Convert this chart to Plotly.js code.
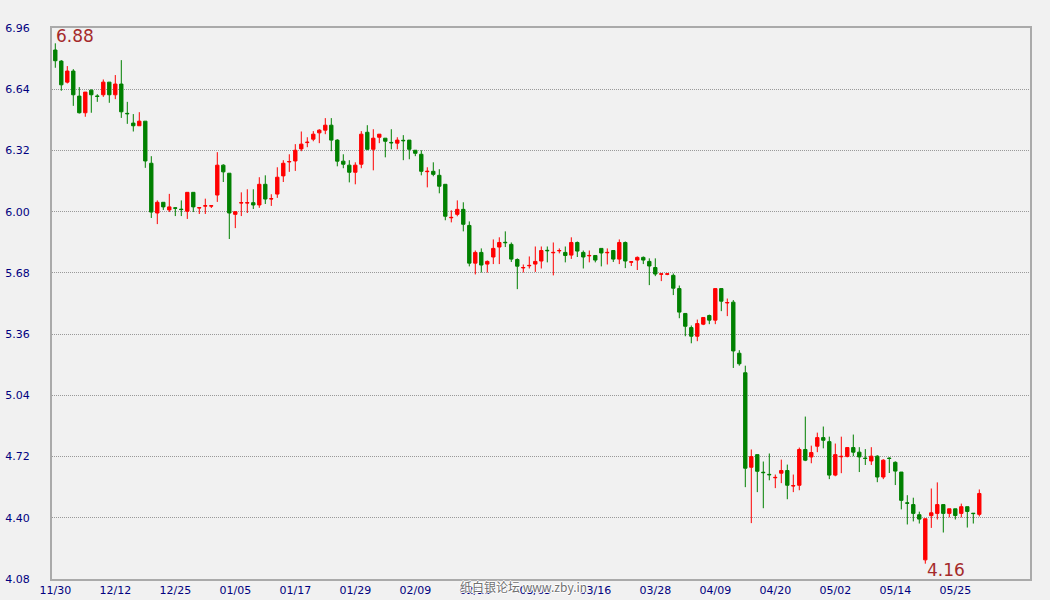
<!DOCTYPE html>
<html>
<head>
<meta charset="utf-8">
<script src="https://cdn.plot.ly/plotly-3.0.1.min.js"></script>
<style>html,body{margin:0;padding:0;background:#f1f1f1;}#chart{width:1050px;height:600px;}</style>
</head>
<body>
<div id="chart"></div>
<script>
// Tick labels shown every 10 trading days
const tickLabels = ["11/30","12/12","12/25","01/05","01/17","01/29","02/09","02/21","03/05","03/16","03/28","04/09","04/20","05/02","05/14","05/25"];

const openP = [
6.845,6.787,6.677,6.735,6.604,6.517,6.635,6.605,6.611,6.677,
6.611,6.667,6.514,6.463,6.449,6.473,6.253,5.993,6.049,6.009,
6.020,6.013,6.002,6.101,6.019,6.029,6.029,6.087,6.243,6.201,
5.986,6.045,6.045,6.047,6.035,6.143,6.066,6.092,6.187,6.260,
6.265,6.328,6.361,6.379,6.412,6.426,6.452,6.374,6.264,6.243,
6.206,6.248,6.415,6.326,6.389,6.384,6.362,6.358,6.373,6.374,
6.321,6.300,6.209,6.211,6.190,6.143,5.968,5.986,6.012,5.928,
5.731,5.787,5.726,5.763,5.815,5.840,5.829,5.750,5.706,5.717,
5.726,5.742,5.798,5.785,5.795,5.787,5.773,5.839,5.787,5.769,
5.771,5.808,5.785,5.797,5.752,5.839,5.736,5.747,5.761,5.740,
5.708,5.673,5.673,5.667,5.598,5.468,5.394,5.349,5.412,5.457,
5.433,5.598,5.523,5.527,5.260,5.158,4.664,4.730,4.638,4.627,
4.609,4.633,4.647,4.566,4.570,4.757,4.718,4.774,4.819,4.798,
4.623,4.719,4.720,4.767,4.743,4.712,4.697,4.722,4.613,4.712,
4.690,4.639,4.478,4.469,4.416,4.180,4.411,4.423,4.469,4.423,
4.447,4.423,4.458,4.424,4.418];

const highP = [
6.880,6.792,6.761,6.745,6.651,6.625,6.639,6.614,6.691,6.677,
6.714,6.792,6.574,6.510,6.520,6.473,6.290,6.059,6.049,6.093,
6.023,6.059,6.101,6.101,6.021,6.068,6.031,6.311,6.248,6.201,
6.000,6.101,6.117,6.117,6.180,6.190,6.091,6.232,6.269,6.300,
6.353,6.419,6.389,6.421,6.431,6.489,6.489,6.379,6.300,6.269,
6.258,6.421,6.452,6.431,6.405,6.384,6.431,6.389,6.400,6.374,
6.321,6.321,6.232,6.258,6.222,6.143,6.007,6.059,6.049,5.949,
5.797,5.808,5.745,5.855,5.866,5.897,5.839,5.756,5.724,5.766,
5.818,5.818,5.818,5.839,5.808,5.818,5.866,5.844,5.797,5.797,
5.771,5.808,5.808,5.797,5.855,5.844,5.738,5.766,5.766,5.756,
5.756,5.675,5.675,5.677,5.614,5.468,5.405,5.436,5.447,5.462,
5.598,5.598,5.546,5.538,5.276,5.195,4.757,4.730,4.694,4.736,
4.626,4.704,4.678,4.626,4.767,4.929,4.777,4.845,4.877,4.824,
4.788,4.824,4.767,4.835,4.769,4.759,4.769,4.727,4.706,4.716,
4.695,4.639,4.518,4.505,4.432,4.395,4.553,4.585,4.469,4.447,
4.447,4.474,4.458,4.424,4.548];

const lowP = [
6.752,6.632,6.670,6.553,6.513,6.496,6.517,6.574,6.600,6.569,
6.588,6.490,6.459,6.419,6.449,6.229,5.967,5.935,6.009,5.998,
5.977,5.977,5.962,5.998,5.988,5.988,6.019,6.051,6.155,5.857,
5.914,5.977,5.993,6.014,6.020,6.040,6.030,6.072,6.155,6.208,
6.213,6.316,6.337,6.368,6.358,6.405,6.316,6.237,6.227,6.153,
6.143,6.227,6.321,6.216,6.358,6.284,6.326,6.326,6.269,6.274,
6.290,6.190,6.127,6.185,6.096,5.955,5.944,5.976,5.897,5.714,
5.672,5.682,5.682,5.726,5.726,5.815,5.737,5.595,5.682,5.703,
5.685,5.703,5.735,5.667,5.782,5.735,5.753,5.763,5.703,5.735,
5.735,5.714,5.724,5.737,5.726,5.705,5.716,5.695,5.726,5.616,
5.663,5.637,5.668,5.564,5.443,5.349,5.312,5.323,5.407,5.412,
5.412,5.480,5.454,5.183,5.195,4.560,4.372,4.534,4.450,4.596,
4.555,4.581,4.497,4.534,4.544,4.696,4.685,4.743,4.763,4.602,
4.617,4.633,4.716,4.722,4.639,4.676,4.676,4.586,4.602,4.634,
4.571,4.444,4.365,4.381,4.370,4.160,4.347,4.391,4.323,4.402,
4.391,4.402,4.349,4.370,4.407];

const closeP = [
6.789,6.663,6.735,6.611,6.517,6.625,6.611,6.602,6.677,6.611,
6.667,6.522,6.512,6.449,6.473,6.265,5.998,6.049,6.025,6.025,
6.018,6.011,6.101,6.025,6.021,6.031,6.031,6.243,6.208,5.993,
6.000,6.047,6.047,6.035,6.143,6.066,6.068,6.180,6.253,6.262,
6.321,6.353,6.363,6.405,6.426,6.452,6.374,6.264,6.248,6.206,
6.243,6.405,6.326,6.384,6.405,6.368,6.360,6.374,6.371,6.326,
6.305,6.211,6.211,6.195,6.133,5.976,5.970,6.012,5.934,5.731,
5.787,5.721,5.740,5.808,5.839,5.838,5.752,5.715,5.708,5.719,
5.740,5.797,5.796,5.787,5.797,5.771,5.839,5.794,5.763,5.771,
5.747,5.784,5.787,5.752,5.839,5.742,5.738,5.761,5.747,5.716,
5.674,5.675,5.675,5.600,5.475,5.401,5.349,5.415,5.447,5.433,
5.598,5.532,5.525,5.272,5.205,4.659,4.720,4.643,4.636,4.625,
4.611,4.647,4.570,4.568,4.757,4.701,4.741,4.819,4.805,4.623,
4.730,4.721,4.767,4.743,4.718,4.710,4.722,4.613,4.701,4.710,
4.644,4.491,4.476,4.423,4.393,4.395,4.426,4.469,4.423,4.447,
4.412,4.458,4.433,4.422,4.527];

const idx = openP.map((_, i) => i);
const tickVals = tickLabels.map((_, i) => i * 10);

const maxHigh = Math.max(...highP);
const iMax = highP.indexOf(maxHigh);
const minLow = Math.min(...lowP);
const iMin = lowP.indexOf(minLow);

const trace = {
  type: 'candlestick',
  x: idx, open: openP, high: highP, low: lowP, close: closeP,
  increasing: {line: {color: '#ff0000', width: 1}, fillcolor: '#ff0000'},
  decreasing: {line: {color: '#008000', width: 1}, fillcolor: '#008000'},
  whiskerwidth: 0,
  hoverinfo: 'skip'
};

const tickFont = {family: 'DejaVu Sans, Verdana, sans-serif', size: 11, color: '#000080'};
const markFont = {family: 'DejaVu Sans, Verdana, sans-serif', size: 17, color: '#a52a2a'};

const layout = {
  width: 1050, height: 600,
  margin: {l: 52, r: 20, t: 28, b: 21, pad: 0},
  paper_bgcolor: '#f1f1f1',
  plot_bgcolor: '#f1f1f1',
  showlegend: false,
  boxgap: 0.2,
  xaxis: {
    type: 'linear',
    range: [-0.55, 162.45],
    rangeslider: {visible: false},
    tickmode: 'array', tickvals: tickVals, ticktext: tickLabels,
    showgrid: false, zeroline: false,
    showline: true, mirror: true, linecolor: '#aaaaaa', linewidth: 2,
    ticks: '', tickfont: tickFont, fixedrange: true
  },
  yaxis: {
    range: [4.08, 6.96],
    tick0: 4.08, dtick: 0.32, tickformat: '.2f',
    showgrid: true, gridcolor: '#999999', gridwidth: 1, griddash: '1px,1px',
    zeroline: false,
    showline: true, mirror: true, linecolor: '#aaaaaa', linewidth: 2,
    ticks: '', tickfont: tickFont, ticklabelstandoff: 18, fixedrange: true
  },
  annotations: [
    {x: iMax, y: maxHigh, xref: 'x', yref: 'y', text: maxHigh.toFixed(2),
     showarrow: false, xanchor: 'left', yanchor: 'bottom', xshift: -1, yshift: -5, font: markFont},
    {x: iMin, y: minLow, xref: 'x', yref: 'y', text: minLow.toFixed(2),
     showarrow: false, xanchor: 'left', yanchor: 'top', xshift: 0, yshift: 6, font: markFont},
    {x: 0.4816, y: -0.0145, xref: 'paper', yref: 'paper', text: '纸白银论坛 www.zby.in',
     showarrow: false, xanchor: 'center', yanchor: 'middle',
     font: {family: 'Noto Sans CJK SC, sans-serif', size: 12, color: '#707070',
            shadow: '1px 0 0 #fff, -1px 0 0 #fff, 0 1px 0 #fff, 0 -1px 0 #fff'}}
  ]
};

Plotly.newPlot('chart', [trace], layout, {displayModeBar: false, staticPlot: true});
</script>
</body>
</html>
